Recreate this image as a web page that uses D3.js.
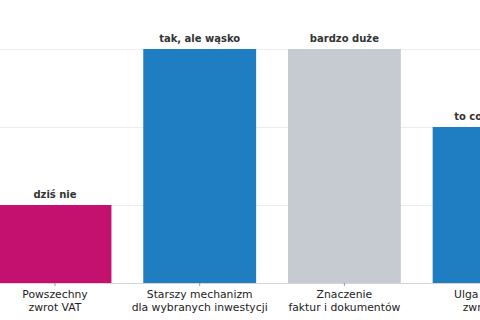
<!DOCTYPE html>
<html>
<head>
<meta charset="utf-8">
<script src="https://cdn.jsdelivr.net/npm/d3@7"></script>
<style>
  html, body { margin: 0; padding: 0; background: #fff; }
  svg { display: block; font-family: "DejaVu Sans", sans-serif; }
</style>
</head>
<body>
<div id="chart"></div>
<script>
// Data
const categories = [
    ["Powszechny", "zwrot VAT"],
    ["Starszy mechanizm", "dla wybranych inwestycji"],
    ["Znaczenie", "faktur i dokumentów"],
    ["Ulga zamiast", "zwrot VAT"]
];
const values = [1, 3, 3, 2];
const barLabels = ["dziś nie", "tak, ale wąsko", "bardzo duże", "to co innego"];
const barColors = ["#c4106f", "#1f7ec1", "#c6cbd2", "#1f7ec1"];
const gridValues = [1, 2, 3];

const width = 480;
const height = 320;

const svg = d3.select("#chart").append("svg")
    .attr("width", width)
    .attr("height", height);

// Scales (the chart is a crop of a wider figure, so the band range spills past the edges)
const step = 144.7;
const x = d3.scaleBand()
    .domain(d3.range(categories.length))
    .range([55 - step / 2, 55 + (categories.length - 0.5) * step])
    .paddingInner(0.22)
    .paddingOuter(0.11);

const y = d3.scaleLinear()
    .domain([0, 3])
    .range([283, 49]);

// Grid lines
svg.append("g")
    .selectAll("line")
    .data(gridValues)
    .enter()
    .append("line")
    .attr("x1", 0)
    .attr("x2", width)
    .attr("y1", d => y(d) + 0.5)
    .attr("y2", d => y(d) + 0.5)
    .attr("stroke", "#ececec")
    .attr("stroke-width", 1);

// Bars
svg.append("g")
    .selectAll("rect")
    .data(values)
    .enter()
    .append("rect")
    .attr("x", (d, i) => x(i))
    .attr("y", d => y(d))
    .attr("width", x.bandwidth())
    .attr("height", d => y(0) - y(d))
    .attr("fill", (d, i) => barColors[i]);

// Value labels above bars
svg.append("g")
    .selectAll("text")
    .data(values)
    .enter()
    .append("text")
    .attr("x", (d, i) => x(i) + x.bandwidth() / 2)
    .attr("y", d => y(d) - 7)
    .attr("text-anchor", "middle")
    .attr("font-size", "10px")
    .attr("font-weight", "bold")
    .attr("fill", "#333")
    .text((d, i) => barLabels[i]);

// X axis
const xAxis = svg.append("g")
    .attr("transform", `translate(0,${y(0)})`)
    .call(d3.axisBottom(x).tickSize(3).tickSizeOuter(0).tickFormat(""))
    .attr("font-family", "DejaVu Sans, sans-serif");

xAxis.select(".domain").attr("stroke", "#d5d5d5");
xAxis.selectAll(".tick line").attr("stroke", "#999");

xAxis.selectAll(".tick")
    .append("text")
    .attr("text-anchor", "middle")
    .attr("fill", "#222")
    .attr("font-size", "10.8px")
    .selectAll("tspan")
    .data(i => categories[i])
    .enter()
    .append("tspan")
    .attr("x", 0)
    .attr("y", (d, j) => 15 + j * 13)
    .text(d => d);
</script>
</body>
</html>
